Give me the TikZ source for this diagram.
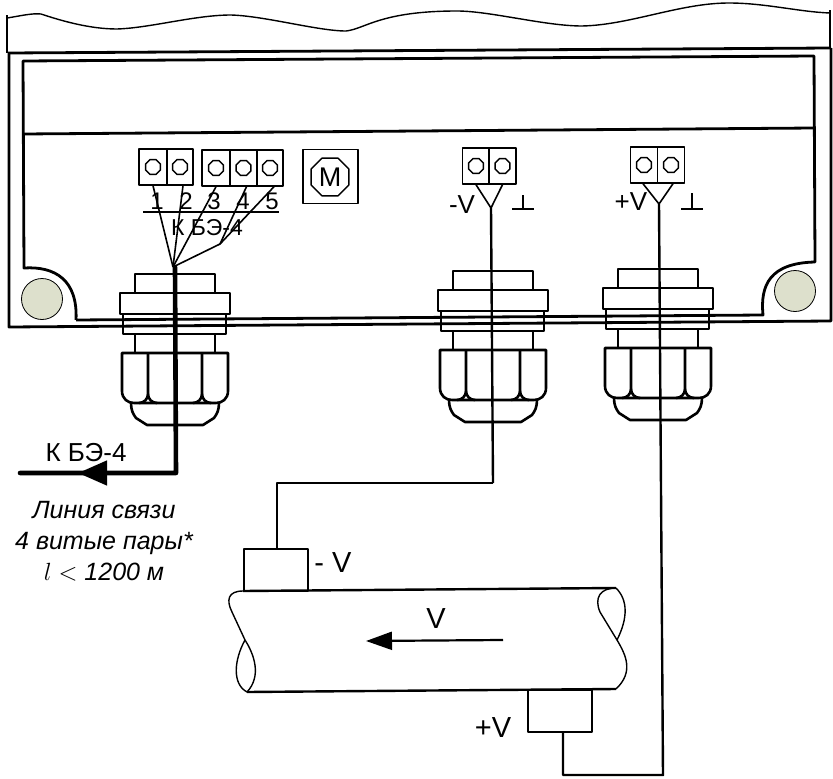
\documentclass[tikz,border=0pt]{standalone}
\usepackage{fontspec}
\setmainfont{Liberation Sans}
\usetikzlibrary{arrows.meta,shapes.geometric}

\begin{document}
\begin{tikzpicture}[x=1pt,y=-1pt,line join=round]
    \tikzstyle{label}=[inner sep=0pt,font=\fontsize{24}{28}\selectfont]
    \tikzstyle{biglabel}=[inner sep=0pt,font=\fontsize{26}{30}\selectfont]
    \tikzstyle{hugelabel}=[inner sep=0pt,font=\fontsize{29}{33}\selectfont]
    \tikzstyle{note}=[inner sep=0pt,font=\fontsize{25}{31}\selectfont\itshape,align=center]
    \tikzstyle{cell}=[rectangle,draw=black,line width=1.4pt,minimum height=36pt,inner sep=0pt]
    \tikzstyle{screw}=[regular polygon,regular polygon sides=8,draw=black,line width=1.4pt,minimum size=16pt,inner sep=0pt]
    \tikzstyle{wall}=[line width=2.8pt]
    \tikzstyle{part}=[line width=2.6pt]
    \tikzstyle{wire}=[line width=1.6pt]
    \tikzstyle{lead}=[line width=2.4pt]
    \tikzstyle{post}=[circle,draw=black,fill=post,line width=0.8pt,minimum size=41pt,inner sep=0pt]
    \definecolor{post}{HTML}{DDE0CC}
    \useasboundingbox (0,0) rectangle (833,779);

    % cover
    \draw[line width=1.4pt] (7,18) .. controls (20,16) and (32,13) .. (41,14)
        .. controls (62,21) and (90,29) .. (117,29)
        .. controls (150,28) and (195,15) .. (231,15)
        .. controls (265,16) and (318,31) .. (346,31)
        .. controls (365,29) and (380,11) .. (457,11)
        .. controls (490,11) and (545,26) .. (582,26)
        .. controls (630,25) and (680,3) .. (729,3)
        .. controls (765,3) and (800,12) .. (830,13);
    \draw[line width=1.8pt] (7,15) -- (7,53);
    \draw[line width=1.8pt] (830,10) -- (830,48);

    % housing
    \draw[wall] (8,53) -- (831,48);
    \draw[wall] (9,53) -- (9,327) -- (831,321) -- (831,48);
    \draw[wall] (76,320) -- (763,315)
        .. controls (760,285) and (770,263) .. (815,262)
        -- (814,56) -- (23,61) -- (24,268)
        .. controls (55,266) and (78,280) .. (76,320);
    \draw[wall] (23,134) -- (814,128);
    \node[post] (post-l) at (42,299) {};
    \node[post] (post-r) at (795,291) {};

    % terminals
    \foreach \num/\x/\y/\w in {1/153/167/28, 2/180/167/26, 3/216/168/28, 4/243.5/168/27, 5/270/168/26}
    {
        \node[cell,minimum width=\w pt] (T-\num) at (\x,\y) {};
        \node[screw] (S-\num) at (\x,\y) {};
    }
    \foreach \num/\x/\y in {6/476/166, 7/502.5/166, 8/644/165, 9/671/165}
    {
        \node[cell,minimum width=27pt] (T-\num) at (\x,\y) {};
        \node[screw] (S-\num) at (\x,\y) {};
    }

    % motor
    \node[rectangle,draw=black,line width=1.4pt,minimum width=55pt,minimum height=54pt] (M-box) at (330.5,176.5) {};
    \node[regular polygon,regular polygon sides=8,draw=black,line width=1.4pt,minimum size=41pt,inner sep=0pt,font=\fontsize{27}{30}\selectfont] (M) at (330,177) {M};

    % cable glands
    \foreach \cx/\ty in {175/274, 493/271, 658/269}
    {
        \begin{scope}[shift={(\cx,\ty)}]
            \draw[part] (-40,19) -- (-40,0) -- (40,0) -- (40,19);
            \draw[part] (-55,19) rectangle (55,40);
            \draw[part] (-52,40) rectangle (51,60);
            \draw[part] (-40,60) -- (-40,79);
            \draw[part] (40,60) -- (40,79);
            \draw[part] (-53,79) -- (53,79) -- (53,117)
                .. controls (53,125) and (47,129) .. (41,129) -- (-41,129)
                .. controls (-47,129) and (-53,125) .. (-53,117) -- cycle;
            \draw[part] (-27,79) -- (-27,120) .. controls (-27,125) and (-31,129) .. (-36,129);
            \draw[part] (-27,120) .. controls (-27,125) and (-23,129) .. (-18,129);
            \draw[part] (27,79) -- (27,120) .. controls (27,125) and (23,129) .. (18,129);
            \draw[part] (27,120) .. controls (27,125) and (31,129) .. (36,129);
            \draw[part] (-44,129) .. controls (-44,136) and (-42,140) .. (-39,144)
                -- (-28,151) -- (28,151) -- (39,144)
                .. controls (42,140) and (44,136) .. (44,129);
        \end{scope}
    }

    % wires to terminals 1-5
    \coordinate (fan) at (173,267);
    \coordinate (bend) at (220,244);
    \draw[wire] (T-1.south) -- (fan);
    \draw[wire] ([xshift=3pt]T-2.south) -- (fan);
    \draw[wire] (T-3.south) -- (fan);
    \draw[wire] ([xshift=3pt]T-4.south) -- (bend);
    \draw[wire] ([xshift=4pt]T-5.south) -- (bend) -- (fan);
    \coordinate (rule-l) at (143,212);
    \coordinate (rule-r) at (279,212);
    \draw[line width=1.4pt] (rule-l) -- (rule-r);

    \foreach \num/\x in {1/157, 2/186, 3/214, 4/243, 5/272}
        \node[label] (N-\num) at (\x,201) {\num};
    \node[inner sep=0pt,font=\fontsize{23}{27}\selectfont] (bus) at (207,228) {К БЭ-4};

    % line to the control unit
    \coordinate (cable-t) at (175,267);
    \coordinate (cable-c) at (176,473);
    \coordinate (cable-a) at (78,473);
    \coordinate (cable-e) at (20,473);
    \draw[line width=4.6pt,line cap=round] (cable-t) -- (cable-c) -- (cable-e);
    \draw[line width=4.6pt,-{Triangle[length=29pt,width=24pt]}] (110,473) -- (cable-a);
    \node[biglabel] (unit) at (86,453) {К БЭ-4};
    \node[note] (line-note) at (104,541) {Линия связи\\4 витые пары*\\$l<$ 1200 м};

    % terminals of the sensors
    \coordinate (fork-a) at (491,208);
    \coordinate (fork-b) at (659,204);
    \draw[wire] (T-6.south) -- (fork-a) -- (T-7.south);
    \draw[wire] ([xshift=-1pt]T-8.south) -- (fork-b) -- ([xshift=2pt]T-9.south);
    \node[biglabel] (minus-v) at (462,205) {-V};
    \node[biglabel] (plus-v) at (631,202) {+V};
    \foreach \x/\y/\top in {523/209/195, 692/209/193}
    {
        \draw[line width=1.4pt] (\x,\y) -- (\x,\top);
        \draw[line width=2pt] (\x-11,\y) -- (\x+11,\y);
    }

    % pipe
    \node[rectangle,draw=black,line width=2.8pt,minimum width=64pt,minimum height=42pt] (sensor-a) at (276,570) {};
    \node[rectangle,draw=black,line width=2.4pt,minimum width=64pt,minimum height=42pt] (sensor-b) at (560,711) {};
    \draw[line width=2.4pt] (243,591) -- (616,588);
    \draw[line width=2.4pt] (247,692) -- (616,689);
    \draw[line width=1.4pt] (243,591) .. controls (228,591) and (226,600) .. (232,612)
        -- (245,640) .. controls (254,654) and (262,676) .. (247,692)
        .. controls (232,684) and (234,660) .. (245,640);
    \draw[line width=1.4pt] (616,588) .. controls (600,588) and (594,598) .. (600,612)
        -- (617,640) .. controls (626,655) and (634,672) .. (616,689);
    \draw[line width=1.4pt] (616,588) .. controls (628,600) and (628,618) .. (617,640);
    \coordinate (flow-a) at (503,640);
    \coordinate (flow-b) at (366,641);
    \draw[line width=2.2pt,-{Triangle[length=26pt,width=18pt]}] (flow-a) -- (flow-b);
    \node[hugelabel] (flow) at (436,619) {V};
    \node[hugelabel] (sensor-a-v) at (333,563) {- V};
    \node[hugelabel] (sensor-b-v) at (493,728) {+V};

    % sensor wiring
    \draw[lead] (fork-a) -- (493,483);
    \draw[wire] (493,483) -- (277,483) -- (sensor-a.north -| 277,0);
    \draw[lead] (fork-b) -- (663,775) -- (563,775) -- (sensor-b.south -| 563,0);
\end{tikzpicture}
\end{document}
